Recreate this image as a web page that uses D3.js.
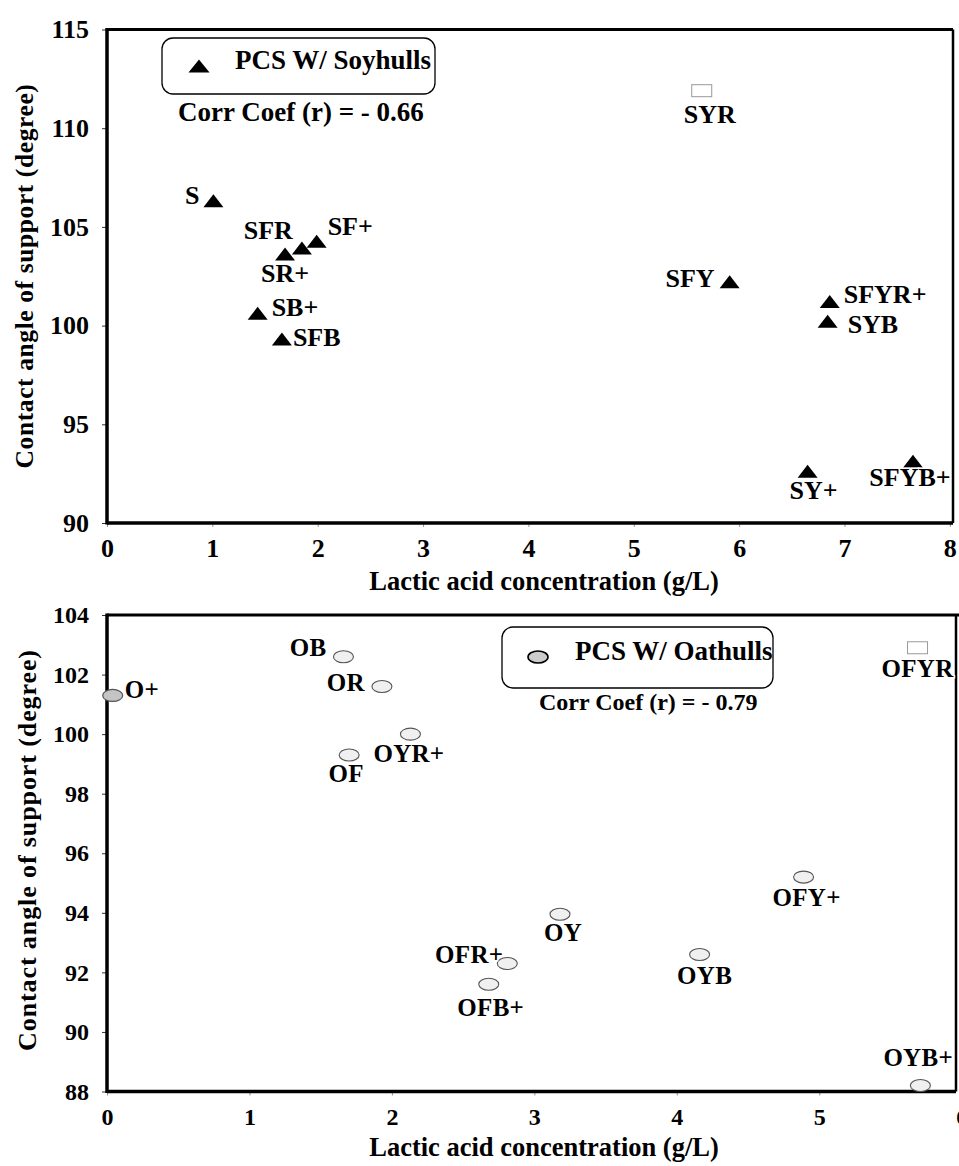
<!DOCTYPE html>
<html>
<head>
<meta charset="utf-8">
<script src="https://cdn.jsdelivr.net/npm/d3@7/dist/d3.min.js"></script>
<style>
  body { margin: 0; background: #fff; }
  svg { display: block; }
</style>
</head>
<body>
<svg id="chart" width="959" height="1166" font-family="'Liberation Serif', 'Times New Roman', serif" font-weight="bold"></svg>
<script>
// ---------- Data ----------
const soyNames  = ["S", "SR+", "SFR", "SF+", "SB+", "SFB", "SYR", "SFY", "SFYR+", "SYB", "SY+", "SFYB+"];
const soyLactic = [1.01, 1.69, 1.85, 1.99, 1.43, 1.66, 5.645, 5.91, 6.86, 6.84, 6.65, 7.65];
const soyAngle  = [106.3, 103.6, 103.9, 104.25, 100.6, 99.3, 111.9, 102.2, 101.2, 100.2, 92.6, 93.1];
const soyMarker = ["tri", "tri", "tri", "tri", "tri", "tri", "rect", "tri", "tri", "tri", "tri", "tri"];

const oatNames  = ["O+", "OB", "OR", "OYR+", "OF", "OFYR", "OFY+", "OYB", "OYB+", "OY", "OFR+", "OFB+"];
const oatLactic = [0.04, 1.66, 1.93, 2.13, 1.70, 5.69, 4.89, 4.16, 5.71, 3.18, 2.81, 2.68];
const oatAngle  = [101.3, 102.6, 101.6, 100.0, 99.3, 102.9, 95.2, 92.6, 88.2, 93.95, 92.3, 91.6];
const oatMarker = ["ellDark", "ell", "ell", "ell", "ell", "rect", "ell", "ell", "ell", "ell", "ell", "ell"];

const soyXTicks = [0, 1, 2, 3, 4, 5, 6, 7, 8];
const soyYTicks = [90, 95, 100, 105, 110, 115];
const oatXTicks = [0, 1, 2, 3, 4, 5, 6];
const oatYTicks = [88, 90, 92, 94, 96, 98, 100, 102, 104];

const soyLegend = "PCS W/ Soyhulls";
const oatLegend = "PCS W/ Oathulls";
const soyCorr = "Corr Coef (r) = - 0.66";
const oatCorr = "Corr Coef (r) = - 0.79";
const xTitle = "Lactic acid concentration (g/L)";
const yTitle = "Contact angle of support (degree)";

// ---------- Label placement (anchor, dx, dy in px) ----------
const soyLabelPos = {
  "S": ["end", -14, 3], "SFR": ["end", -9, -10], "SR+": ["middle", 0, 27], "SF+": ["start", 11, -7],
  "SB+": ["start", 14, 2], "SFB": ["start", 11, 7], "SYR": ["middle", 8, 32], "SFY": ["end", -15, 5],
  "SFYR+": ["start", 14, 1], "SYB": ["start", 20, 11], "SY+": ["middle", 6, 27], "SFYB+": ["middle", -3, 24]
};
const oatLabelPos = {
  "O+": ["start", 12, 3], "OB": ["end", -17, -1], "OR": ["end", -17, 5], "OYR+": ["start", -37, 28],
  "OF": ["middle", -3, 27], "OFYR": ["start", -36, 29], "OFY+": ["middle", 3, 29], "OYB": ["middle", 5, 29],
  "OYB+": ["start", -37, -20], "OY": ["middle", 3, 27], "OFR+": ["end", -4, 0], "OFB+": ["middle", 2, 32]
};

const FONT = "'Liberation Serif', 'Times New Roman', serif";
const svg = d3.select("#chart");

function styleText(sel, size) {
  sel.attr("font-family", FONT).attr("font-weight", "bold").attr("font-size", size).attr("fill", "#000");
  return sel;
}

function drawMarker(g, type, x, y) {
  if (type === "tri") {
    g.append("path").attr("d", "M0,-7 L10,6 L-10,6 Z")
      .attr("transform", `translate(${x},${y})`).attr("fill", "#000");
  } else if (type === "rect") {
    g.append("rect").attr("x", x - 10).attr("y", y - 6).attr("width", 20).attr("height", 12)
      .attr("fill", "#fff").attr("stroke", "#999").attr("stroke-width", 1);
  } else if (type === "ellDark") {
    g.append("ellipse").attr("cx", x).attr("cy", y).attr("rx", 10).attr("ry", 6)
      .attr("fill", "#c4c4c4").attr("stroke", "#555").attr("stroke-width", 1.2);
  } else {
    g.append("ellipse").attr("cx", x).attr("cy", y).attr("rx", 10).attr("ry", 6)
      .attr("fill", "#f0f0f0").attr("stroke", "#555").attr("stroke-width", 1.1);
  }
}

function panel(cfg) {
  const g = svg.append("g");
  const x = d3.scaleLinear().domain(cfg.xDomain).range([cfg.left, cfg.right]);
  const y = d3.scaleLinear().domain(cfg.yDomain).range([cfg.bottom, cfg.top]);

  // axes
  const yAxis = g.append("g").attr("transform", `translate(${cfg.left},0)`)
    .call(d3.axisLeft(y).tickValues(cfg.yTicks).tickSize(5).tickPadding(cfg.yPad).tickFormat(d3.format("d")));
  yAxis.attr("font-family", null).attr("font-size", null);
  yAxis.select(".domain").remove();
  yAxis.selectAll("line").attr("stroke", "#333").attr("stroke-width", 1);
  styleText(yAxis.selectAll("text"), cfg.tickFont);

  const xAxis = g.append("g").attr("transform", `translate(0,${cfg.bottom})`)
    .call(d3.axisBottom(x).tickValues(cfg.xTicks).tickSize(4).tickPadding(cfg.xPad).tickFormat(d3.format("d")));
  xAxis.attr("font-family", null).attr("font-size", null);
  xAxis.select(".domain").remove();
  xAxis.selectAll("line").attr("stroke", "#777").attr("stroke-width", 0.8);
  styleText(xAxis.selectAll("text"), cfg.tickFont);

  // frame
  g.append("line").attr("x1", cfg.left).attr("x2", cfg.frameRight).attr("y1", cfg.top).attr("y2", cfg.top)
    .attr("stroke", "#000").attr("stroke-width", 3);
  g.append("line").attr("x1", cfg.right).attr("x2", cfg.right).attr("y1", cfg.top).attr("y2", cfg.bottom)
    .attr("stroke", "#000").attr("stroke-width", 2.5);
  g.append("line").attr("x1", cfg.left).attr("x2", cfg.left).attr("y1", cfg.top - 1.5).attr("y2", cfg.bottom + 1.5)
    .attr("stroke", "#000").attr("stroke-width", 3.5);
  g.append("line").attr("x1", cfg.left).attr("x2", cfg.right).attr("y1", cfg.bottom).attr("y2", cfg.bottom)
    .attr("stroke", "#000").attr("stroke-width", 3.5);

  // titles
  styleText(g.append("text"), 26.5).attr("x", cfg.xTitleX).attr("y", cfg.xTitleY).attr("text-anchor", "middle")
    .text(xTitle);
  styleText(g.append("text"), cfg.yTitleFont).attr("transform", `translate(${cfg.yTitleX},${cfg.yTitleY}) rotate(-90)`)
    .attr("text-anchor", "middle").attr("letter-spacing", cfg.yTitleLS).text(yTitle);

  // legend
  const lg = cfg.legend;
  g.append("rect").attr("x", lg.x).attr("y", lg.y).attr("width", lg.w).attr("height", lg.h)
    .attr("rx", 11).attr("ry", 11).attr("fill", "none").attr("stroke", "#000").attr("stroke-width", 1.3);
  if (cfg.legendMarker === "tri") {
    g.append("path").attr("d", "M0,-6.5 L10.5,6.5 L-10.5,6.5 Z")
      .attr("transform", `translate(${lg.mx},${lg.my})`).attr("fill", "#000");
  } else {
    g.append("ellipse").attr("cx", lg.mx).attr("cy", lg.my).attr("rx", 10).attr("ry", 6)
      .attr("fill", "#ccc").attr("stroke", "#000").attr("stroke-width", 1.6);
  }
  styleText(g.append("text"), 27).attr("x", lg.tx).attr("y", lg.ty).text(cfg.legendText);
  styleText(g.append("text"), lg.cFont).attr("x", lg.cx).attr("y", lg.cy).text(cfg.corrText);

  // points
  const pts = g.append("g");
  cfg.names.forEach((n, i) => {
    drawMarker(pts, cfg.markers[i], x(cfg.xs[i]), y(cfg.ys[i]));
  });
  const labs = g.append("g");
  cfg.names.forEach((n, i) => {
    const p = cfg.labelPos[n];
    styleText(labs.append("text"), cfg.labelFont)
      .attr("x", x(cfg.xs[i]) + p[1]).attr("y", y(cfg.ys[i]) + p[2])
      .attr("text-anchor", p[0])
      .attr("letter-spacing", cfg.labelLS)
      .attr("paint-order", "stroke").attr("stroke", "#fff").attr("stroke-width", 3)
      .text(n);
  });
}

panel({
  xDomain: [0, 8.03], yDomain: [90, 115], left: 107, right: 953, frameRight: 953, top: 29.5, bottom: 523,
  xTicks: soyXTicks, yTicks: soyYTicks, tickFont: 26, yPad: 13, xPad: 12,
  xTitleX: 544, xTitleY: 590, yTitleX: 33, yTitleY: 276, yTitleFont: 25.5, yTitleLS: 0.6,
  legend: { x: 162, y: 38, w: 273, h: 56, mx: 199, my: 66, tx: 235, ty: 69, cx: 178, cy: 121, cFont: 27 },
  legendMarker: "tri", legendText: soyLegend, corrText: soyCorr,
  names: soyNames, xs: soyLactic, ys: soyAngle, markers: soyMarker, labelPos: soyLabelPos,
  labelFont: 26, labelLS: 0
});

panel({
  xDomain: [0, 5.96], yDomain: [88, 104], left: 107, right: 956, frameRight: 959, top: 615, bottom: 1091.5,
  xTicks: oatXTicks, yTicks: oatYTicks, tickFont: 24, yPad: 13, xPad: 12,
  xTitleX: 544, xTitleY: 1156, yTitleX: 36, yTitleY: 850, yTitleFont: 26, yTitleLS: 0.9,
  legend: { x: 502, y: 627, w: 271, h: 61, mx: 538, my: 657, tx: 575, ty: 660, cx: 539, cy: 710, cFont: 24 },
  legendMarker: "ell", legendText: oatLegend, corrText: oatCorr,
  names: oatNames, xs: oatLactic, ys: oatAngle, markers: oatMarker, labelPos: oatLabelPos,
  labelFont: 25, labelLS: 0.3
});
</script>
</body>
</html>
